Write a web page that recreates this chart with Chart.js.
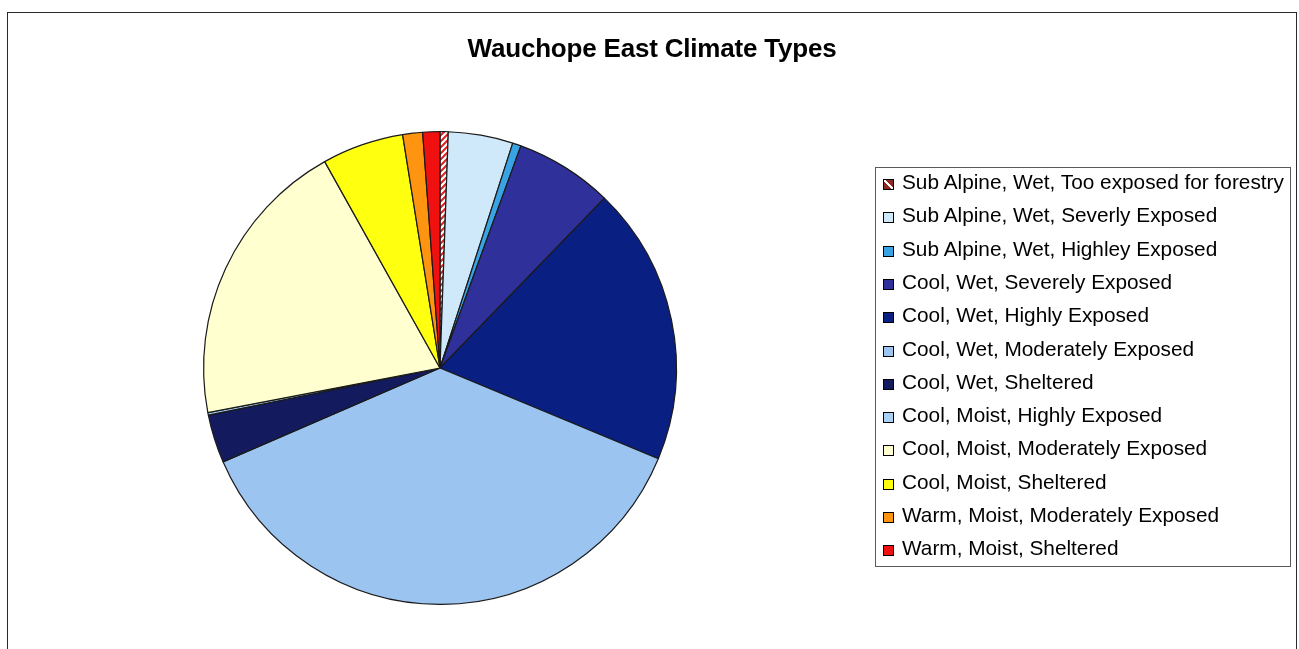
<!DOCTYPE html>
<html>
<head>
<meta charset="utf-8">
<title>Wauchope East Climate Types</title>
<script src="https://cdn.jsdelivr.net/npm/chart.js@4.4.1/dist/chart.umd.min.js"></script>
<style>
  html, body { margin: 0; padding: 0; background: #fff; }
  body {
    width: 1299px; height: 649px; position: relative; overflow: hidden;
    font-family: "Liberation Sans", Arial, sans-serif; color: #000;
  }
  #pie { position: absolute; left: 0; top: 0; }
  .frame {
    position: absolute; left: 7px; top: 12px; width: 1290px; height: 700px;
    border: 1.5px solid #2a2a2a; box-sizing: border-box;
  }
  .title {
    position: absolute; left: 7px; width: 1290px; top: 35px; margin: 0;
    text-align: center; font-size: 26px; line-height: 26px; font-weight: bold;
    letter-spacing: -0.2px;
  }
  .legend {
    position: absolute; left: 875px; top: 167px; width: 416px; height: 400px;
    border: 1.5px solid #5a5a5a; box-sizing: border-box;
  }
  .legend .item {
    position: absolute; left: 0; height: 33.3px; line-height: 33.3px;
    font-size: 20.8px; white-space: nowrap; padding-left: 26px;
  }
  .legend .swatch {
    position: absolute; left: 7px; top: 14px; width: 11px; height: 11px;
    border: 1px solid #000; box-sizing: border-box;
  }
</style>
</head>
<body>
<canvas id="pie" width="1299" height="649"></canvas>
<div class="frame"></div>
<div class="title">Wauchope East Climate Types</div>
<div class="legend" id="legend"></div>

<script>
// climate type areas, percent of total, in plotting order (clockwise from 12 o'clock)
const climateTypes = [
  "Sub Alpine, Wet, Too exposed for forestry",
  "Sub Alpine, Wet, Severly Exposed",
  "Sub Alpine, Wet, Highley Exposed",
  "Cool, Wet, Severely Exposed",
  "Cool, Wet, Highly Exposed",
  "Cool, Wet, Moderately Exposed",
  "Cool, Wet, Sheltered",
  "Cool, Moist, Highly Exposed",
  "Cool, Moist, Moderately Exposed",
  "Cool, Moist, Sheltered",
  "Warm, Moist, Moderately Exposed",
  "Warm, Moist, Sheltered"
]
const areaShare = [0.56, 4.42, 0.58, 6.69, 19.03, 37.25, 3.31, 0.17, 19.92, 5.58, 1.36, 1.17]
const sliceColours = [
  null, // hatched, built below
  "#cfe8fa",
  "#3aa3e3",
  "#30309a",
  "#0a1f82",
  "#9bc4f0",
  "#141a5e",
  "#a9d0f5",
  "#ffffcf",
  "#ffff10",
  "#ff9411",
  "#f01010"
]

// red/white diagonal stripes for the "too exposed" slice
function stripes() {
  const c = document.createElement("canvas")
  c.width = 6
  c.height = 6
  const g = c.getContext("2d")
  g.fillStyle = "#fff"
  g.fillRect(0, 0, 6, 6)
  g.strokeStyle = "#e02020"
  g.lineWidth = 2
  g.beginPath()
  g.moveTo(-1, 7); g.lineTo(7, -1)
  g.moveTo(-4, 4); g.lineTo(4, -4)
  g.moveTo(2, 10); g.lineTo(10, 2)
  g.stroke()
  return g.createPattern(c, "repeat")
}

const fills = sliceColours.map((c, i) => i === 0 ? stripes() : c)

// legend
const legendEl = document.getElementById("legend")
climateTypes.forEach((name, i) => {
  const item = document.createElement("div")
  item.className = "item"
  item.style.top = (-3 + i * 33.3) + "px"
  const sw = document.createElement("span")
  sw.className = "swatch"
  if (i === 0) {
    sw.style.background = "linear-gradient(45deg, #8e2a22 42%, #fff 42%, #fff 58%, #8e2a22 58%)"
  } else {
    sw.style.background = sliceColours[i]
  }
  item.appendChild(sw)
  item.appendChild(document.createTextNode(name))
  legendEl.appendChild(item)
})

new Chart(document.getElementById("pie"), {
  type: "pie",
  data: {
    labels: climateTypes,
    datasets: [{
      data: areaShare,
      backgroundColor: fills,
      borderColor: "#1a1a1a",
      borderWidth: 1.2
    }]
  },
  options: {
    responsive: false,
    animation: false,
    layout: {
      padding: { left: 203, right: 622, top: 131, bottom: 44 }
    },
    plugins: {
      legend: { display: false },
      tooltip: { enabled: false },
      title: { display: false }
    }
  }
})
</script>
</body>
</html>
